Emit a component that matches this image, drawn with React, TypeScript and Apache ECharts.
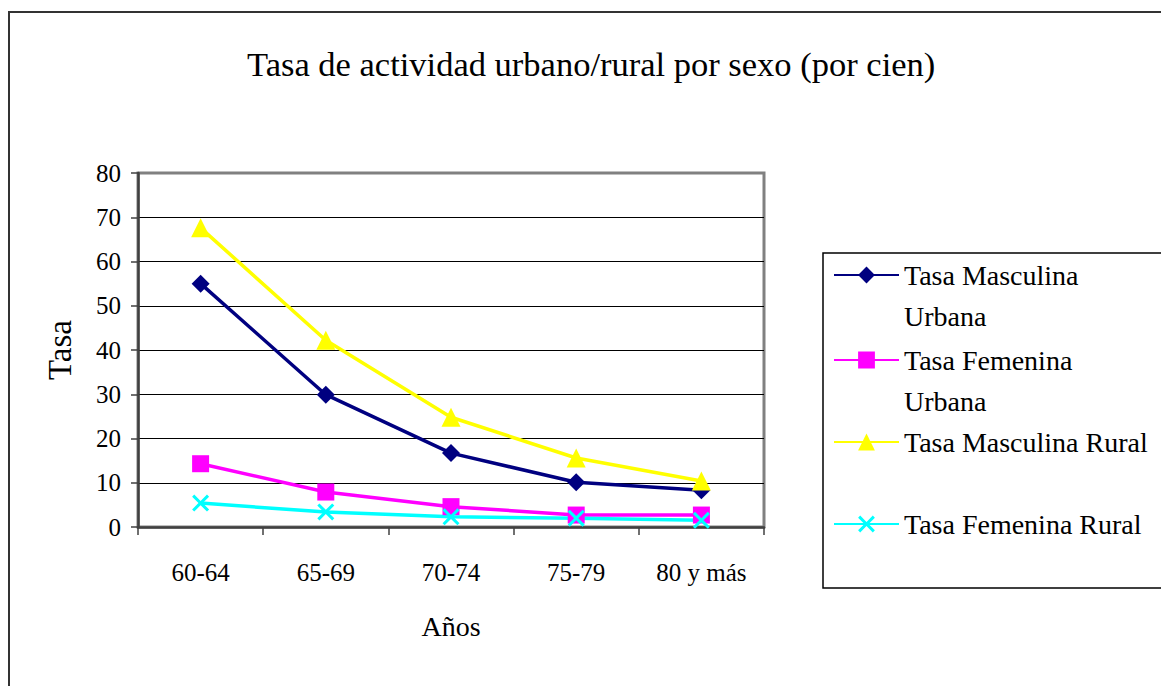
import React, { useEffect, useRef } from "react";
import * as echarts from "echarts";

const categories = ["60-64", "65-69", "70-74", "75-79", "80 y más"];
const seriesNames = [
  "Tasa Masculina Urbana",
  "Tasa Femenina Urbana",
  "Tasa Masculina Rural",
  "Tasa Femenina Rural",
];
const legendLabels = [
  " \nTasa Masculina\nUrbana",
  " \nTasa Femenina\nUrbana",
  "Tasa Masculina Rural",
  "Tasa Femenina Rural",
];
const mascUrbana = [55.0, 29.9, 16.7, 10.1, 8.3];
const femUrbana = [14.3, 7.9, 4.6, 2.7, 2.7];
const mascRural = [67.6, 42.2, 24.8, 15.6, 10.4];
const femRural = [5.4, 3.4, 2.3, 2.0, 1.5];
const yTicks = [0, 10, 20, 30, 40, 50, 60, 70, 80];

const seriesColors = ["#000080", "#FF00FF", "#FFFF00", "#00FFFF"];
const crossPath =
  "path://M0,2.5L2.5,0L10,7.5L17.5,0L20,2.5L12.5,10L20,17.5L17.5,20L10,12.5L2.5,20L0,17.5L7.5,10Z";
const symbols = ["diamond", "rect", "triangle", crossPath];
const symbolSizes = [18, 17, 19, 17];

const FONT = "'Times New Roman', 'Liberation Serif', serif";

export default function App() {
  const ref = useRef<HTMLDivElement>(null);

  useEffect(() => {
    document.body.style.margin = "0";
    if (!ref.current) return;
    const chart = echarts.init(ref.current, undefined, { renderer: "svg" });
    const values = [mascUrbana, femUrbana, mascRural, femRural];

    const legendCenters = [275, 360, 442, 524];
    const lineH = 41;
    const legends = seriesNames.map((name, i) => {
      const nLines = legendLabels[i].split("\n").length;
      return {
        show: true,
        orient: "vertical",
        left: 833,
        top: legendCenters[i] - (lineH * nLines) / 2,
        padding: 0,
        itemWidth: 65,
        itemHeight: 21,
        itemGap: 0,
        selectedMode: false,
        data: [name],
        formatter: () => legendLabels[i],
        textStyle: {
          fontFamily: FONT,
          fontSize: 28,
          color: "#000",
          lineHeight: lineH,
        },
      };
    });

    chart.setOption({
      animation: false,
      backgroundColor: "#ffffff",
      title: {
        text: "Tasa de actividad urbano/rural por sexo (por cien)",
        left: 247,
        top: 46,
        padding: 0,
        textStyle: {
          fontFamily: FONT,
          fontSize: 34.5,
          fontWeight: "normal",
          color: "#000",
        },
      },
      legend: legends,
      graphic: [
        {
          type: "rect",
          shape: { x: 9, y: 12, width: 1300, height: 800 },
          style: { fill: "none", stroke: "#333", lineWidth: 2 },
          silent: true,
          z: 0,
        },
        {
          type: "rect",
          shape: { x: 823, y: 253, width: 400, height: 335 },
          style: { fill: "none", stroke: "#000", lineWidth: 1.5 },
          silent: true,
          z: 0,
        },
      ],
      grid: {
        left: 138,
        top: 173,
        right: 397,
        bottom: 159,
        show: true,
        borderColor: "#808080",
        borderWidth: 3,
        backgroundColor: "#fff",
        containLabel: false,
      },
      xAxis: {
        type: "category",
        data: categories,
        boundaryGap: true,
        name: "Años",
        nameLocation: "middle",
        nameGap: 85,
        nameTextStyle: { fontFamily: FONT, fontSize: 28, color: "#000" },
        axisLine: { lineStyle: { color: "#404040", width: 2.5 } },
        axisTick: { show: true, length: 8, lineStyle: { color: "#404040", width: 1.5 } },
        axisLabel: {
          fontFamily: FONT,
          fontSize: 25,
          color: "#000",
          margin: 33,
          interval: 0,
        },
        splitLine: { show: false },
      },
      yAxis: {
        type: "value",
        min: yTicks[0],
        max: yTicks[yTicks.length - 1],
        interval: 10,
        name: "Tasa",
        nameLocation: "middle",
        nameGap: 62,
        nameTextStyle: { fontFamily: FONT, fontSize: 33, color: "#000" },
        axisLine: { show: true, lineStyle: { color: "#404040", width: 2.5 } },
        axisTick: { show: true, length: 7, lineStyle: { color: "#404040", width: 1.5 } },
        axisLabel: {
          fontFamily: FONT,
          fontSize: 25,
          color: "#000",
          margin: 17,
        },
        splitLine: {
          show: true,
          lineStyle: {
            color: ["#000", "#000", "#000", "#000", "#000", "#000", "#000", "#000", "#808080"],
            width: 1,
          },
        },
      },
      series: seriesNames.map((name, i) => ({
        name,
        type: "line",
        data: values[i],
        symbol: symbols[i],
        symbolSize: symbolSizes[i],
        showAllSymbol: true,
        lineStyle: { color: seriesColors[i], width: 3.5 },
        itemStyle: { color: seriesColors[i] },
        emphasis: { disabled: true },
      })),
    });

    return () => chart.dispose();
  }, []);

  return <div ref={ref} style={{ width: 1161, height: 686 }} />;
}
